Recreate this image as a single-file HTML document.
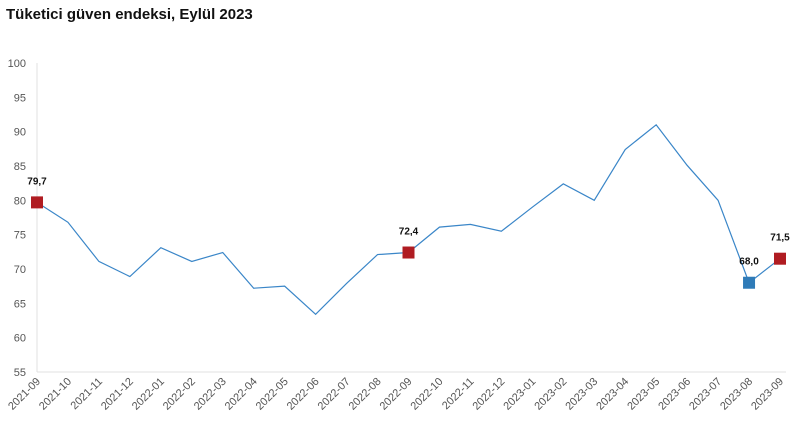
<!DOCTYPE html>
<html><head><meta charset="utf-8"><style>
body{margin:0;background:#fff;width:806px;height:438px;overflow:hidden;font-family:"Liberation Sans",sans-serif}
</style></head><body>
<svg id="chart" width="806" height="438" xmlns="http://www.w3.org/2000/svg">
<text x="6" y="19" font-size="15" font-weight="bold" fill="#111">Tüketici güven endeksi, Eylül 2023</text>
<g id="axes"></g><g id="series"></g>
</svg>
<script>
const categories=["2021-09","2021-10","2021-11","2021-12","2022-01","2022-02","2022-03","2022-04","2022-05","2022-06","2022-07","2022-08","2022-09","2022-10","2022-11","2022-12","2023-01","2023-02","2023-03","2023-04","2023-05","2023-06","2023-07","2023-08","2023-09"];
const values=[79.7,76.8,71.1,68.9,73.1,71.1,72.4,67.2,67.5,63.4,67.9,72.1,72.4,76.1,76.5,75.5,79.0,82.4,80.0,87.4,91.0,85.1,80.0,68.0,71.5];
const yTicks=[55,60,65,70,75,80,85,90,95,100];
const highlights=[{i:0,label:"79,7",color:"#b01c22"},{i:12,label:"72,4",color:"#b01c22"},{i:23,label:"68,0",color:"#2f7bb8"},{i:24,label:"71,5",color:"#b01c22"}];
const NS="http://www.w3.org/2000/svg";
const x0=37,x1=780,yTop=63,yBot=372,vMin=55,vMax=100;
const xs=i=>x0+(x1-x0)*i/(categories.length-1);
const ys=v=>yBot-(v-vMin)/(vMax-vMin)*(yBot-yTop);
function mk(t,a,p){const e=document.createElementNS(NS,t);for(const k in a)e.setAttribute(k,a[k]);p.appendChild(e);return e;}
const ax=document.getElementById("axes"),se=document.getElementById("series");
const yl=mk("line",{x1:x0,y1:yTop,x2:x0,y2:yBot,stroke:"#e0e0e0"},ax);


const xl=mk("line",{x1:x0,y1:yBot,x2:x1+6,y2:yBot,stroke:"#e0e0e0"},ax);


yTicks.forEach(v=>{const t=mk("text",{x:x0-11,y:ys(v)+4,"text-anchor":"end","font-size":"11",fill:"#555"},ax);t.textContent=v;

});
categories.forEach((c,i)=>{const x=xs(i)+4,y=yBot+10;const t=mk("text",{x:x,y:y,"text-anchor":"end","font-size":"11",fill:"#555",transform:`rotate(-45 ${x} ${y})`},ax);t.textContent=c;

});
const line=mk("polyline",{points:values.map((v,i)=>xs(i)+","+ys(v)).join(" "),fill:"none",stroke:"#3a86c8","stroke-width":"1.2"},se);


highlights.forEach(h=>{const x=xs(h.i),y=ys(values[h.i]);
const r=mk("rect",{x:x-6,y:y-6,width:12,height:12,fill:h.color},se);


const t=mk("text",{x:x,y:y-18,"text-anchor":"middle","font-size":"10","font-weight":"bold",fill:"#111"},se);t.textContent=h.label;

});
</script>
</body></html>
